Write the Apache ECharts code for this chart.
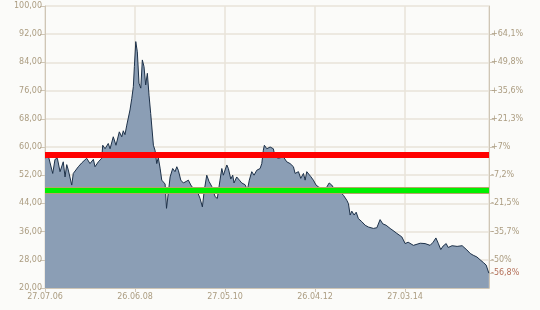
<!DOCTYPE html>
<html>
<head>
<meta charset="utf-8">
<script src="https://cdn.jsdelivr.net/npm/echarts@6/dist/echarts.min.js"></script>
<style>
html,body{margin:0;padding:0;background:#fbfbf9;}
#c{width:540px;height:310px;}
</style>
</head>
<body>
<div id="c"></div>
<script>
// Days since 27.07.06 for each sampled point
var dayOffsets = [0,8,27,39,60,78,96,117,142,156,169,181,208,220,259,286,324,350,376,389,415,441,449,467,492,506,531,552,578,597,609,622,636,648,661,675,687,695,706,718,731,745,757,770,783,796,809,822,843,856,869,881,895,908,920,934,945,959,973,993,1011,1025,1037,1056,1076,1097,1115,1134,1154,1180,1206,1224,1239,1258,1276,1297,1323,1340,1361,1375,1387,1414,1426,1445,1460,1470,1491,1512,1530,1556,1574,1589,1608,1626,1647,1673,1686,1698,1706,1725,1751,1776,1789,1815,1828,1854,1880,1906,1932,1945,1971,1989,2010,2023,2036,2048,2067,2087,2108,2126,2153,2178,2192,2210,2230,2256,2295,2321,2347,2360,2373,2386,2404,2420,2437,2451,2464,2490,2515,2554,2581,2593,2606,2627,2653,2684,2707,2736,2775,2801,2824,2865,2918,2956,2995,3019,3040,3058,3078,3096,3120,3135,3166,3205,3244,3281,3307,3330,3359,3384,3410,3431,3452];
var prices = [56.9,56.8,57.3,57.0,52.5,56.5,56.8,53.0,55.8,51.5,55.0,53.5,49.2,52.5,54.4,55.5,56.8,55.3,56.5,54.4,55.8,56.8,60.5,59.5,61.0,59.5,62.9,60.5,64.3,62.9,64.6,63.5,66.2,66.6,70.5,73.8,77.1,82.8,89.9,87.0,78.1,76.7,84.7,82.8,77.6,80.9,74.7,69.5,60.5,59.0,55.3,57.0,54.0,50.6,51.0,49.5,42.6,47.0,51.5,53.9,53.0,54.4,53.4,50.6,49.8,50.2,50.6,49.2,48.2,47.8,45.4,43.0,47.8,52.0,50.2,48.8,45.9,45.4,50.6,53.9,52.0,54.9,53.9,50.9,52.0,49.8,51.5,50.6,49.8,49.3,47.8,50.6,53.0,52.0,53.4,53.9,55.3,59.1,60.5,59.5,60.0,59.5,57.2,56.8,56.8,57.2,55.8,55.3,54.4,52.5,53.0,51.1,52.5,50.6,53.0,52.5,51.6,50.6,49.2,48.7,48.2,47.8,47.8,49.8,49.2,47.8,47.3,46.3,44.9,43.9,40.7,41.8,40.7,41.5,39.7,40.0,38.8,37.8,37.3,36.9,37.1,37.3,39.4,38.2,37.8,36.9,36.3,35.5,34.5,32.6,33.0,32.1,32.7,32.6,32.1,33.0,34.2,32.7,30.9,31.9,32.6,31.5,32.0,31.8,32.0,30.8,29.8,29.3,28.8,28.0,27.2,26.5,24.2];

var xTickLabels = ['27.07.06','26.06.08','27.05.10','26.04.12','27.03.14'];
var xTickStep = 700;      // days between labelled dates
var xMaxDay = 3453;

var yMin = 20, yMax = 100, yStep = 8;

var pctTickValues = [24.2, 28, 36, 44, 52, 60, 68, 76, 84, 92];
var pctTickLabels = ['-56,8%','-50%','-35,7%','-21,5%','-7,2%','+7%','+21,3%','+35,6%','+49,8%','+64,1%'];

var resistanceLevel = 57.8;   // red line
var supportLevel = 47.75;     // green line

var seriesData = dayOffsets.map(function(d, i){ return [d, prices[i]]; });

var labelColor = '#ab9c80';
var lastColor = '#b4705a';
var gridColor = '#e9e3d8';
var axisColor = '#cfc6b6';
var fontFam = '"DejaVu Sans", Verdana, sans-serif';

var chart = echarts.init(document.getElementById('c'), null, {renderer:'canvas'});
chart.setOption({
  backgroundColor: '#fbfbf9',
  animation: false,
  grid: {left: 45, right: 51, top: 6, bottom: 22, containLabel: false},
  xAxis: {
    type: 'value', min: 0, max: xMaxDay, interval: xTickStep,
    axisLine: {show: true, lineStyle: {color: axisColor}},
    axisTick: {show: true, length: 4, lineStyle: {color: axisColor}},
    splitLine: {show: true, lineStyle: {color: gridColor, width: 1.5}},
    axisLabel: {
      color: labelColor, fontFamily: fontFam, fontSize: 8, margin: 5,
      showMaxLabel: false,
      formatter: function(v){ var k = Math.round(v / xTickStep); return xTickLabels[k] || ''; }
    }
  },
  yAxis: [{
    type: 'value', min: yMin, max: yMax, interval: yStep, position: 'left',
    axisLine: {show: true, lineStyle: {color: axisColor}},
    axisTick: {show: true, length: 5, lineStyle: {color: axisColor}},
    splitLine: {show: true, lineStyle: {color: gridColor, width: 1.5}},
    axisLabel: {
      color: labelColor, fontFamily: fontFam, fontSize: 8, margin: 3,
      formatter: function(v){ return v.toFixed(2).replace('.', ','); }
    }
  }, {
    type: 'value', min: yMin, max: yMax, interval: yStep, position: 'right',
    axisLine: {show: true, lineStyle: {color: axisColor}},
    axisTick: {show: true, length: 5, customValues: pctTickValues,
      lineStyle: {color: axisColor}},
    splitLine: {show: false},
    axisLabel: {
      customValues: pctTickValues,
      fontFamily: fontFam, fontSize: 8, margin: 2,
      color: function(v){ return Math.abs(v - pctTickValues[0]) < 0.01 ? lastColor : labelColor; },
      formatter: function(v){
        for (var i = 0; i < pctTickValues.length; i++) {
          if (Math.abs(pctTickValues[i] - v) < 0.01) return pctTickLabels[i];
        }
        return '';
      }
    }
  }],
  series: [{
    type: 'line',
    data: seriesData,
    showSymbol: false,
    symbol: 'none',
    lineStyle: {color: '#1d3149', width: 1},
    areaStyle: {color: '#8b9eb5', opacity: 1},
    z: 2,
    markLine: {
      silent: true, symbol: 'none', animation: false,
      label: {show: false},
      data: [
        {yAxis: supportLevel, lineStyle: {color: '#b7a36a', width: 7, type: 'solid'}},
        {yAxis: supportLevel, lineStyle: {color: '#00f000', width: 5, type: 'solid'}},
        {yAxis: resistanceLevel, lineStyle: {color: '#ff0000', width: 6, type: 'solid'}}
      ]
    }
  }]
});
</script>
</body>
</html>
